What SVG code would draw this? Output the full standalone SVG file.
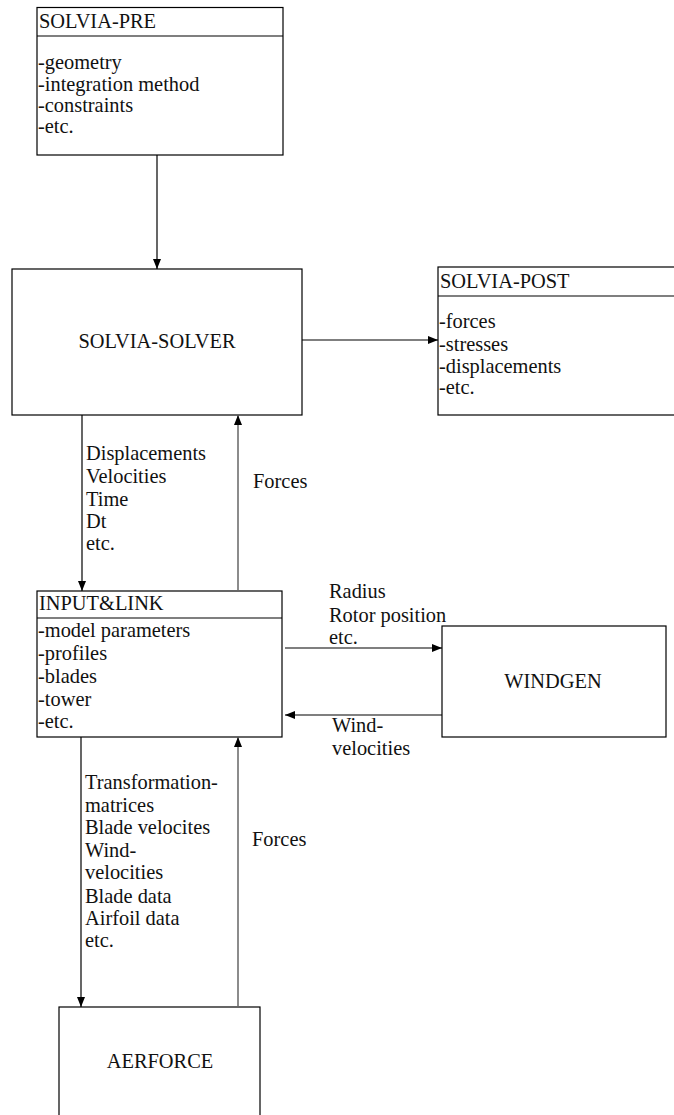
<svg xmlns="http://www.w3.org/2000/svg" width="674" height="1115" viewBox="0 0 674 1115">
<style>
text{font-family:"Liberation Serif","Times New Roman",serif;font-size:20.4px;fill:#111}
.box{fill:none;stroke:#000;stroke-width:1.2}
.c{stroke:#000;stroke-width:1.2;fill:none}
.g{stroke:#666;stroke-width:1.5;fill:none}
.m{text-anchor:middle}
</style>
<defs>
<marker id="ah" viewBox="0 0 10 10" refX="10" refY="5" markerWidth="10" markerHeight="10" markerUnits="userSpaceOnUse" orient="auto">
<path d="M0,1 L10,5 L0,9 Z" fill="#000"/>
</marker>
</defs>
<rect width="674" height="1115" fill="#fff"/>
<g id="solvia-pre">
<rect class="box" x="37" y="7.5" width="246" height="147.5"/>
<line class="c" x1="37" y1="36" x2="283" y2="36"/>
<text x="39" y="28">SOLVIA-PRE</text>
<text x="38" y="69">-geometry</text>
<text x="38" y="91">-integration method</text>
<text x="38" y="112">-constraints</text>
<text x="38" y="133">-etc.</text>
</g>
<g id="solvia-solver">
<rect class="box" x="12" y="269" width="290" height="146"/>
<text class="m" x="157" y="348">SOLVIA-SOLVER</text>
</g>
<g id="solvia-post">
<rect class="box" x="438" y="267" width="260" height="148"/>
<line class="c" x1="438" y1="296" x2="674" y2="296"/>
<text x="440" y="288">SOLVIA-POST</text>
<text x="439" y="328">-forces</text>
<text x="439" y="351">-stresses</text>
<text x="439" y="373">-displacements</text>
<text x="439" y="394">-etc.</text>
</g>
<g id="input-link">
<rect class="box" x="37" y="591" width="245" height="146"/>
<line class="c" x1="37" y1="618" x2="282" y2="618"/>
<text x="39" y="610">INPUT&amp;LINK</text>
<text x="38" y="637">-model parameters</text>
<text x="38" y="660">-profiles</text>
<text x="38" y="683">-blades</text>
<text x="38" y="706">-tower</text>
<text x="38" y="728">-etc.</text>
</g>
<g id="windgen">
<rect class="box" x="442" y="626" width="224" height="111"/>
<text class="m" x="553" y="688">WINDGEN</text>
</g>
<g id="aerforce">
<rect class="box" x="59" y="1007" width="201" height="130"/>
<text class="m" x="160" y="1068">AERFORCE</text>
</g>
<g id="connectors">
<line class="c" x1="157" y1="155" x2="157" y2="269" marker-end="url(#ah)"/>
<line class="c" x1="302" y1="340" x2="438" y2="340" marker-end="url(#ah)"/>
<line class="c" x1="82" y1="415" x2="82" y2="591" marker-end="url(#ah)"/>
<line class="g" x1="238" y1="591" x2="238" y2="415" marker-end="url(#ah)"/>
<line class="c" x1="285" y1="648" x2="442" y2="648" marker-end="url(#ah)"/>
<line class="c" x1="442" y1="715" x2="285" y2="715" marker-end="url(#ah)"/>
<line class="c" x1="81" y1="737" x2="81" y2="1007" marker-end="url(#ah)"/>
<line class="g" x1="238" y1="1007" x2="238" y2="737" marker-end="url(#ah)"/>
<text x="86" y="460">Displacements</text>
<text x="86" y="483">Velocities</text>
<text x="86" y="506">Time</text>
<text x="86" y="528">Dt</text>
<text x="86" y="550">etc.</text>
<text x="253" y="488">Forces</text>
<text x="329" y="598">Radius</text>
<text x="329" y="622">Rotor position</text>
<text x="329" y="644">etc.</text>
<text x="332" y="732">Wind-</text>
<text x="332" y="755">velocities</text>
<text x="85" y="789">Transformation-</text>
<text x="85" y="812">matrices</text>
<text x="85" y="834">Blade velocites</text>
<text x="85" y="857">Wind-</text>
<text x="85" y="879">velocities</text>
<text x="85" y="903">Blade data</text>
<text x="85" y="925">Airfoil data</text>
<text x="85" y="947">etc.</text>
<text x="252" y="846">Forces</text>
</g>
</svg>
